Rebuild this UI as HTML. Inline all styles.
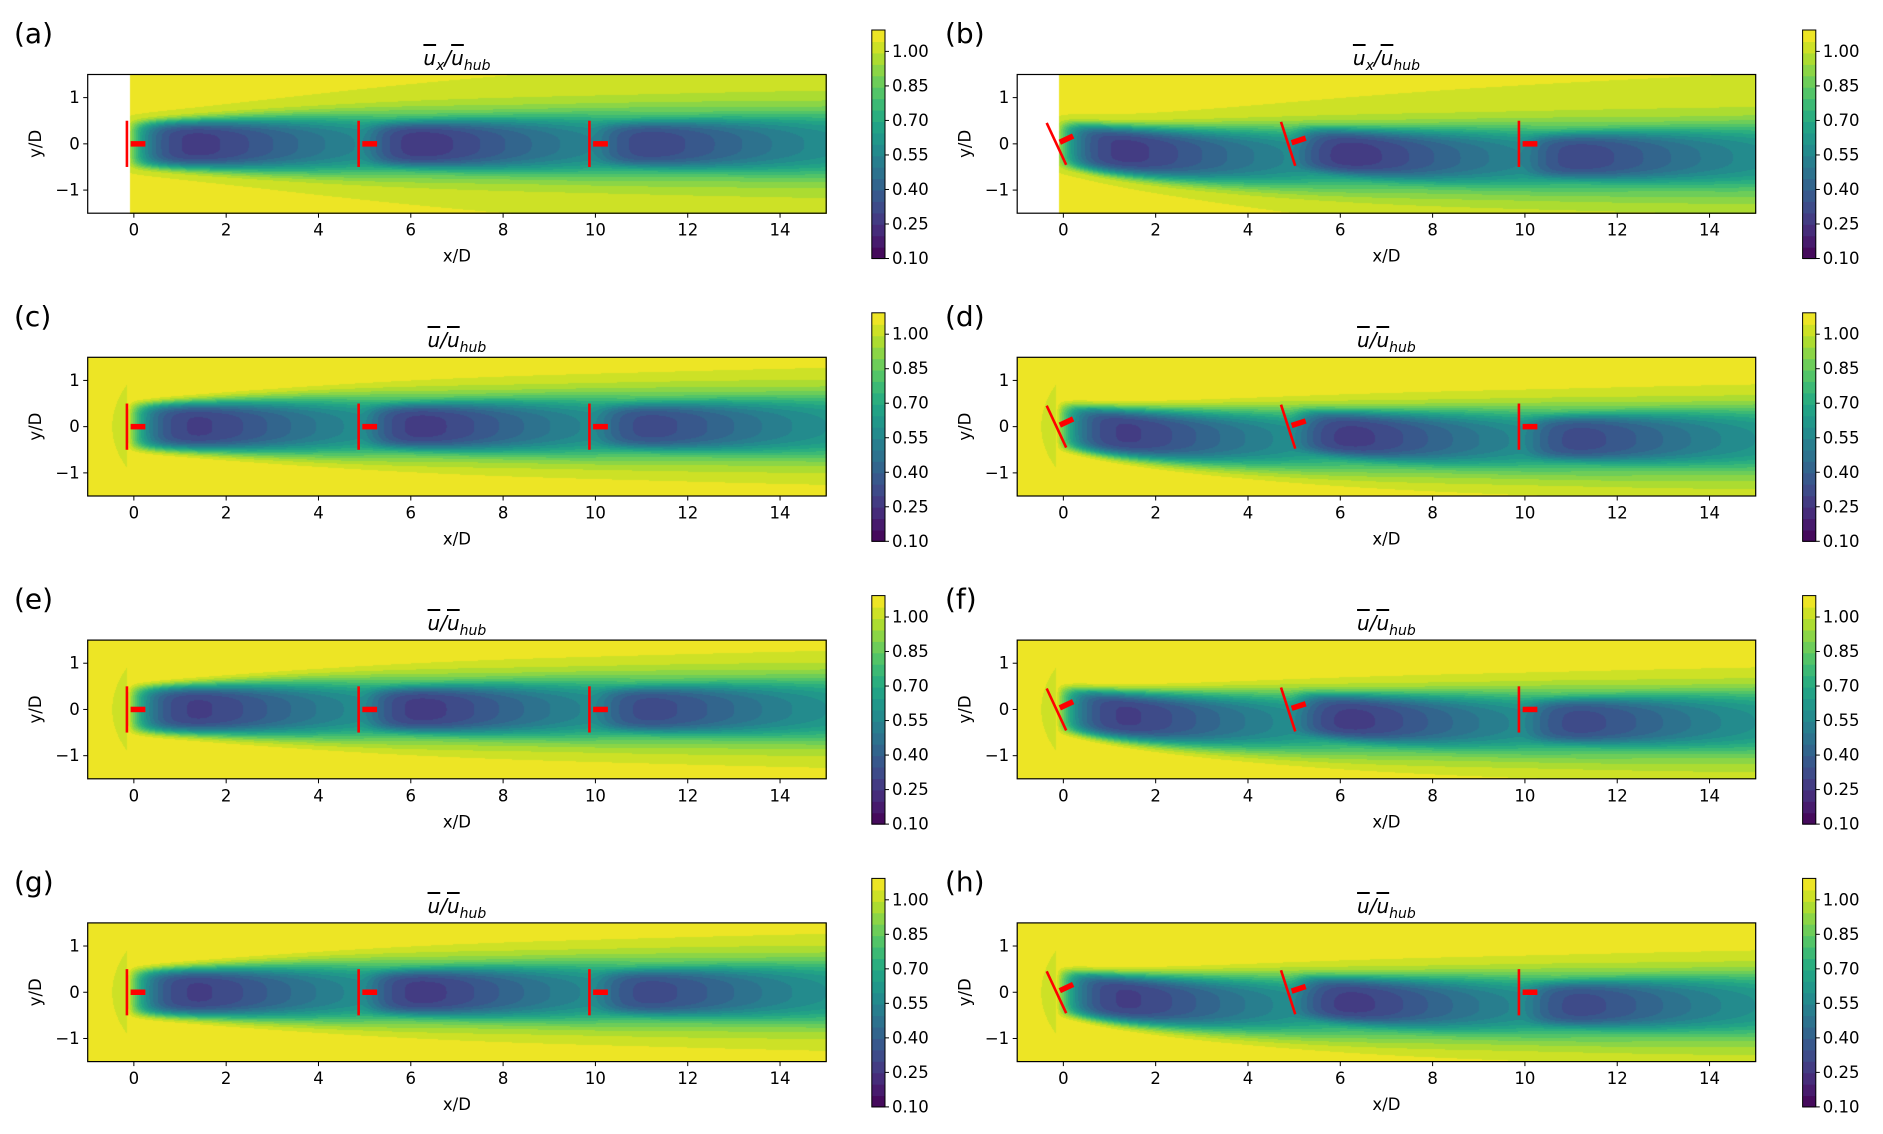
<!DOCTYPE html>
<html><head><meta charset="utf-8">
<style>
html,body{margin:0;padding:0;background:#fff;}
#root{position:relative;width:1883px;height:1134px;overflow:hidden;font-family:"DejaVu Sans","Liberation Sans",sans-serif;}
canvas{position:absolute;}
svg{position:absolute;left:0;top:0;}
.ttl{position:absolute;font-size:20px;font-style:italic;transform:translate(-50%,-50%);white-space:nowrap;color:#000;}
.ol{text-decoration:overline;}
.ttl sub{font-size:14px;}
</style></head>
<body><div id="root"></div>
<script>
// ---- data ----
const panelLetters=['a','b','c','d','e','f','g','h'];
const panelIsMeasured=[true,true,false,false,false,false,false,false];
const turbineX=[0,5,10];
const rotorX=[-0.15,4.87,9.87];
const yawNone=[0,0,0];
const yawSet=[25,18,0];
const wakeDepth=[0.92,0.8,0.72];
const wakeShiftYawed=[0,-0.08,-0.25];
const xTicks=[0,2,4,6,8,10,12,14];
const yTicks=[-1,0,1];
const cbTicks=[0.10,0.25,0.40,0.55,0.70,0.85,1.00];
const cbMin=0.1, cbMax=1.093, nLevels=20;
const viridisStops=['#440154','#482475','#414487','#355f8d','#2a788e','#21918c','#22a884','#44bf70','#7ad151','#bddf26','#fde725'];

// ---- layout ----
const AX_L=[87.7,1017.2], AX_W=738.5, AX_H=138.7, TOP0=74.5, PITCH=282.8;
const CB_L=[871.8,1802.6], CB_W=13.2;
const root=document.getElementById('root');
const NS='http://www.w3.org/2000/svg';
const svg=document.createElementNS(NS,'svg');
svg.setAttribute('width',1883);svg.setAttribute('height',1134);
root.appendChild(svg);

function hex(h){return [parseInt(h.slice(1,3),16),parseInt(h.slice(3,5),16),parseInt(h.slice(5,7),16)];}
const vs=viridisStops.map(hex);
function viridis(t){t=Math.max(0,Math.min(1,t));const p=t*(vs.length-1);const i=Math.min(vs.length-2,Math.floor(p));const f=p-i;return vs[i].map((c,k)=>Math.round(c+(vs[i+1][k]-c)*f));}
function levelColor(u){let k=Math.floor((u-cbMin)/(cbMax-cbMin)*nLevels);k=Math.max(0,Math.min(nLevels-1,k));return viridis((k+0.5)/nLevels);}

function field(x,y,yaws,measured){
  const amb=measured?1.045:1.08;
  let ss=0, ind=0;
  for(let i=0;i<turbineX.length;i++){
    const dx=x-rotorX[i];
    const shift=yaws[0]!==0?wakeShiftYawed[i]:0;
    if(dx>0){
      const sig=0.43+0.024*dx;
      const yc=(i===0?0:shift)-0.006*yaws[i]*dx/(1+dx/3)*(1-Math.exp(-dx/0.5));
      const n=2.5+3.5*Math.exp(-dx/3);
      const A=wakeDepth[i]*(1-Math.exp(-dx/0.6))/(1+0.085*Math.pow(dx,1.5));
      const r=Math.abs(y-yc)/sig;
      const d=A*Math.exp(-0.5*Math.pow(r,n));
      ss+=d*d;
    } else if(!measured && i===0 && dx>-1.2){
      const r=Math.abs(y)/0.8;
      ind=0.065*Math.exp(dx/0.5)*Math.exp(-0.5*r*r);
    }
  }
  return amb*(1-Math.sqrt(ss))*(1-ind);
}

function px(x,L){return L+(x+1)/16*AX_W;}
function py(y,T){return T+(1.5-y)/3*AX_H;}
function el(tag,attrs,parent){const e=document.createElementNS(NS,tag);for(const k in attrs)e.setAttribute(k,attrs[k]);(parent||svg).appendChild(e);return e;}
function txt(x,y,s,anchor,size,parent){const t=el('text',{x:x,y:y,'text-anchor':anchor,'font-size':size,'dominant-baseline':'central','font-family':'DejaVu Sans, Liberation Sans, sans-serif',fill:'#000'},parent);t.textContent=s;return t;}

for(let p=0;p<8;p++){
  const col=p%2,row=Math.floor(p/2);
  const L=AX_L[col],T=TOP0+row*PITCH;
  const yaws=col===1?yawSet:yawNone;
  const meas=panelIsMeasured[p];
  const cv=document.createElement('canvas');
  cv.width=Math.round(AX_W);cv.height=Math.round(AX_H);
  cv.style.left=L+'px';cv.style.top=T+'px';
  
  
  root.insertBefore(cv,svg);
  const ctx=cv.getContext('2d');const img=ctx.createImageData(cv.width,cv.height);
  for(let j=0;j<cv.height;j++){for(let i=0;i<cv.width;i++){
    const x=-1+(i+0.5)/AX_W*16,y=1.5-(j+0.5)/AX_H*3;
    let c;
    if(meas&&x<-0.08)c=[255,255,255];else c=levelColor(field(x,y,yaws,meas));
    const o=(j*cv.width+i)*4;img.data[o]=c[0];img.data[o+1]=c[1];img.data[o+2]=c[2];img.data[o+3]=255;}}
  ctx.putImageData(img,0,0);

  const g=el('g',{});
  
  
  for(let i=0;i<turbineX.length;i++){
    const th=yaws[i]*Math.PI/180;
    const cx=rotorX[i],cy=0;
    const r=el('line',{x1:px(cx-0.5*Math.sin(th),L),y1:py(cy+0.5*Math.cos(th),T),x2:px(cx+0.5*Math.sin(th),L),y2:py(cy-0.5*Math.cos(th),T),stroke:'#ff0000','stroke-width':2.6},g);
    
    
    const n=el('line',{x1:px(cx+0.08*Math.cos(th),L),y1:py(cy+0.08*Math.sin(th),T),x2:px(cx+0.4*Math.cos(th),L),y2:py(cy+0.4*Math.sin(th),T),stroke:'#ff0000','stroke-width':5.5},g);
    
    
  }
  el('rect',{x:L,y:T,width:AX_W,height:AX_H,fill:'none',stroke:'#000','stroke-width':1.2},g);
  xTicks.forEach(v=>{const X=px(v,L);el('line',{x1:X,y1:T+AX_H,x2:X,y2:T+AX_H+4.5,stroke:'#000','stroke-width':1},g);txt(X,T+AX_H+17,String(v),'middle',16.5,g);});
  yTicks.forEach(v=>{const Y=py(v,T);el('line',{x1:L-4.5,y1:Y,x2:L,y2:Y,stroke:'#000','stroke-width':1},g);txt(L-8,Y,v<0?'\u2212'+Math.abs(v):String(v),'end',16.5,g);});
  const xl=txt(L+AX_W/2,T+AX_H+43,'x/D','middle',16.5,g);
  
  const yl=txt(0,0,'y/D','middle',16.5,g);
  yl.setAttribute('transform','translate('+(L-52)+','+(T+AX_H/2)+') rotate(-90)');
  
  const pl=txt(col===0?14:945,T-41,'('+panelLetters[p]+')','start',28,g);
  

  const tt=document.createElement('div');tt.className='ttl';
  tt.style.left=(L+AX_W/2)+'px';tt.style.top=(T-15)+'px';
  tt.innerHTML=meas?'<span class="ol">u</span><sub>x</sub>/<span class="ol">u</span><sub>hub</sub>':'<span class="ol">u</span>/<span class="ol">u</span><sub>hub</sub>';
  
  root.appendChild(tt);

  const CL=CB_L[col],CT=T-44.5,CH=228.5;
  const cg=el('g',{});
  
  
  for(let k=0;k<nLevels;k++){
    const c=viridis((k+0.5)/nLevels);
    el('rect',{x:CL,y:CT+CH-(k+1)/nLevels*CH,width:CB_W,height:CH/nLevels+0.6,fill:'rgb('+c.join(',')+')'},cg);
  }
  el('rect',{x:CL,y:CT,width:CB_W,height:CH,fill:'none',stroke:'#000','stroke-width':1},cg);
  cbTicks.forEach(v=>{const Y=CT+CH-(v-cbMin)/(cbMax-cbMin)*CH;el('line',{x1:CL+CB_W,y1:Y,x2:CL+CB_W+4,y2:Y,stroke:'#000','stroke-width':1},cg);txt(CL+CB_W+7,Y,v.toFixed(2),'start',16.5,cg);});
}
</script></body></html>
